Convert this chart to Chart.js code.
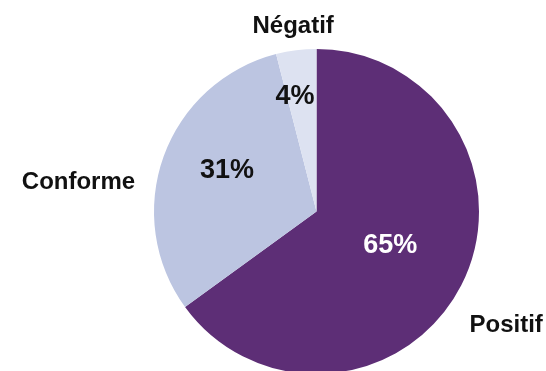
<!DOCTYPE html>
<html>
<head>
<meta charset="utf-8">
<script src="https://cdn.jsdelivr.net/npm/chart.js@4"></script>
<style>
    html, body { margin: 0; padding: 0; background: #fff; overflow: hidden; }
    #box { width: 546px; height: 380px; position: relative; }
</style>
</head>
<body>
<div id="box"><canvas id="avis"></canvas></div>
<script>
// catégories et parts (%)
var categories = ["Positif", "Conforme", "Négatif"];
var parts = [65, 31, 4];
var couleurs = ["#5d2e76", "#bcc5e1", "#dde2f1"];
var couleursTexte = ["#ffffff", "#111111", "#111111"];

// placement des étiquettes : décalage d'angle (degrés) et fraction du rayon
var posPourcent = [{ da: -2.3, k: 0.50 }, { da: 5, k: 0.606 }, { da: -3.4, k: 0.717 }];
var posNom = [
    { da: 9.7, k: 1.174, align: "left" },
    { da: -10.8, k: 1.13, align: "right" },
    { da: 0, k: 1.147, align: "center" }
];

var police = '"Liberation Sans", Arial, Helvetica, sans-serif';

var etiquettes = {
    id: "etiquettes",
    afterDatasetsDraw: function (chart) {
        var ctx = chart.ctx;
        var arcs = chart.getDatasetMeta(0).data;
        ctx.save();
        ctx.textBaseline = "middle";
        arcs.forEach(function (arc, i) {
            var p = arc.getProps(["x", "y", "startAngle", "endAngle", "outerRadius"], true);
            var mid = (p.startAngle + p.endAngle) / 2;

            // pourcentage dans la part
            var a = mid + posPourcent[i].da * Math.PI / 180;
            var r = p.outerRadius * posPourcent[i].k;
            ctx.font = "bold 27px " + police;
            ctx.fillStyle = couleursTexte[i];
            ctx.textAlign = "center";
            ctx.fillText(parts[i] + "%", p.x + Math.cos(a) * r, p.y + Math.sin(a) * r);

            // nom de la catégorie à l'extérieur
            var b = mid + posNom[i].da * Math.PI / 180;
            var rn = p.outerRadius * posNom[i].k;
            ctx.font = "bold 24px " + police;
            ctx.fillStyle = "#111111";
            ctx.textAlign = posNom[i].align;
            ctx.fillText(categories[i], p.x + Math.cos(b) * rn, p.y + Math.sin(b) * rn);
        });
        ctx.restore();
    }
};

var chart = new Chart(document.getElementById("avis").getContext("2d"), {
    type: "pie",
    data: {
        labels: categories,
        datasets: [{
            data: parts,
            backgroundColor: couleurs,
            borderWidth: 0,
            hoverOffset: 0
        }]
    },
    options: {
        responsive: true,
        maintainAspectRatio: false,
        animation: false,
        devicePixelRatio: 1,
        layout: { padding: { left: 154, right: 67, top: 49, bottom: 6 } },
        plugins: {
            legend: { display: false },
            tooltip: { enabled: false }
        }
    },
    plugins: [etiquettes]
});
</script>
</body>
</html>
